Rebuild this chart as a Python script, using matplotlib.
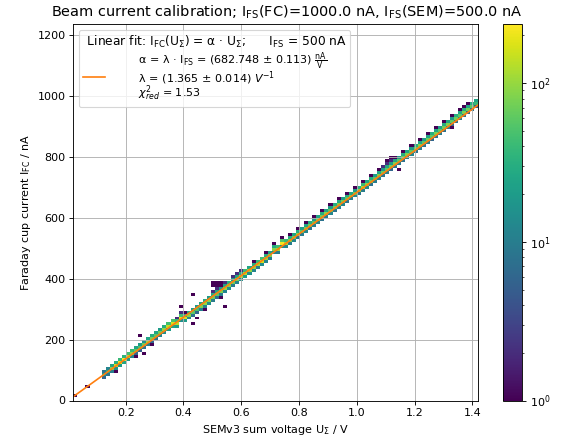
import numpy as np
import matplotlib
matplotlib.use("Agg")
import matplotlib.pyplot as plt
from matplotlib.colors import LogNorm

# ---------------- data ----------------
# column centres (V) of the dense ridge
col_u = [0.123, 0.137, 0.151, 0.165, 0.179, 0.193, 0.207, 0.221, 0.235, 0.249,
         0.263, 0.277, 0.291, 0.305, 0.319, 0.333, 0.347, 0.361, 0.375, 0.389,
         0.403, 0.417, 0.431, 0.445, 0.459, 0.473, 0.487, 0.501, 0.515, 0.529,
         0.543, 0.557, 0.571, 0.585, 0.599, 0.613, 0.627, 0.641, 0.655, 0.669,
         0.683, 0.697, 0.711, 0.725, 0.739, 0.753, 0.767, 0.781, 0.795, 0.809,
         0.823, 0.837, 0.851, 0.865, 0.879, 0.893, 0.907, 0.921, 0.935, 0.949,
         0.963, 0.977, 0.991, 1.005, 1.019, 1.033, 1.047, 1.061, 1.075, 1.089,
         1.103, 1.117, 1.131, 1.145, 1.159, 1.173, 1.187, 1.201, 1.215, 1.229,
         1.243, 1.257, 1.271, 1.285, 1.299, 1.313, 1.327, 1.341, 1.355, 1.369,
         1.383, 1.397, 1.411]
# current (nA) of the lowest occupied cell in each column
col_i0 = [74, 84, 93, 103, 112, 122, 131, 141, 151, 160,
          170, 179, 189, 198, 208, 217, 227, 237, 246, 256,
          265, 275, 284, 294, 304, 313, 323, 332, 342, 352,
          361, 371, 380, 390, 399, 409, 418, 428, 438, 447,
          457, 466, 481, 490, 500, 509, 519, 528, 538, 548,
          557, 567, 576, 586, 595, 605, 615, 624, 634, 643,
          653, 662, 672, 682, 691, 701, 710, 720, 731, 741,
          750, 760, 769, 779, 788, 798, 808, 817, 827, 836,
          846, 856, 865, 875, 884, 894, 903, 913, 922, 932,
          942, 951, 961]
# counts of the stacked cells (lowest first) in each column
col_n = [[6, 20, 8], [8, 30, 12], [10, 90, 25], [15, 160, 30], [20, 200, 40],
         [25, 236, 35], [20, 140, 45], [12, 90, 40], [6, 60, 25], [5, 50, 20],
         [8, 70, 15], [10, 110, 25], [6, 80, 30], [8, 60, 25], [12, 70, 20],
         [15, 100, 30], [20, 140, 45], [25, 170, 50], [20, 130, 40, 2], [15, 200, 45, 2],
         [20, 180, 30, 1], [12, 90, 25], [8, 60, 20], [6, 50, 20], [10, 80, 25],
         [12, 100, 30], [15, 90, 20], [10, 70, 30, 2], [8, 60, 25, 2], [10, 80, 20, 1],
         [12, 100, 25, 1], [15, 90, 30], [10, 70, 20, 2], [12, 80, 25, 1], [15, 110, 30, 1],
         [20, 130, 40], [15, 100, 25], [12, 90, 30, 1], [10, 110, 40], [15, 160, 45],
         [12, 100, 30, 1], [10, 80, 25], [12, 90, 30, 1], [10, 110, 45], [15, 220, 55, 1],
         [12, 120, 40], [10, 80, 30, 1], [12, 70, 25], [8, 90, 30, 1], [10, 60, 20],
         [12, 80, 25, 1], [8, 70, 30], [10, 60, 20, 1], [12, 80, 25], [8, 70, 30, 1],
         [10, 90, 25], [12, 60, 20, 1], [8, 70, 30], [10, 80, 25, 1], [12, 70, 20],
         [8, 60, 30, 1], [10, 80, 25], [12, 70, 20, 1], [8, 90, 30], [10, 120, 40, 1],
         [12, 90, 25], [8, 70, 30, 1], [10, 60, 20], [12, 80, 25, 1], [8, 70, 20, 2],
         [10, 60, 25, 2], [6, 70, 20, 2], [8, 80, 25, 1], [10, 60, 20], [8, 70, 30, 1],
         [10, 80, 25], [12, 60, 20, 1], [8, 70, 30], [10, 90, 25, 1], [8, 60, 20],
         [10, 70, 25, 1], [6, 60, 30], [8, 80, 25, 1], [10, 60, 20], [8, 70, 30, 1],
         [10, 80, 25], [6, 60, 20, 1], [8, 70, 30], [10, 60, 25, 1], [8, 80, 30, 1],
         [6, 70, 25, 1], [8, 60, 30], [4, 40, 25]]
# isolated cells (outliers)
out_u = [0.025, 0.067, 0.165, 0.249, 0.235, 0.263, 0.291, 0.389, 0.431, 0.431,
         0.445, 0.501, 0.515, 0.529, 0.543, 0.501, 0.515, 0.543, 0.529, 0.585,
         0.599, 0.473, 1.103, 1.117, 1.145, 1.327]
out_i = [16, 45, 94, 212, 143, 155, 182, 305, 350, 250,
         268, 385, 385, 385, 385, 375, 375, 311, 337, 420,
         428, 300, 790, 795, 761, 896]
out_n = [1, 1, 1, 1, 1, 1, 1, 1, 1, 1,
         1, 1, 1, 1, 1, 1, 1, 1, 1, 1,
         1, 1, 1, 1, 1, 1]

# fit result
fit_alpha = 682.748
u_range = (0.0187, 1.4206)
i_range = (12.0, 988.0)
n_bins = 100
count_max = 236

# ---------------- build weighted samples ----------------
dy = (i_range[1] - i_range[0]) / n_bins
pu, pi, pw = [], [], []
for u, i0, ns in zip(col_u, col_i0, col_n):
    for j, n in enumerate(ns):
        pu.append(u)
        pi.append(i0 + j * dy)
        pw.append(n)
pu += out_u
pi += out_i
pw += out_n

DPI = 80
W, H = 562, 439
fig = plt.figure(figsize=(W / DPI, H / DPI), dpi=DPI)
ax = fig.add_axes([73.3 / W, 38.5 / H, 405 / W, 376.5 / H])
cax = fig.add_axes([503.3 / W, 38.5 / H, 19 / W, 376.5 / H])

xe = np.linspace(u_range[0], u_range[1], n_bins + 1)
ye = np.linspace(i_range[0], i_range[1], n_bins + 1)
h = ax.hist2d(pu, pi, bins=[xe, ye], weights=pw, cmin=1,
              norm=LogNorm(vmin=1, vmax=count_max), cmap="viridis")
ax.grid(True)

ux = np.array(u_range)
pad = "       "
ax.plot(ux, fit_alpha * ux, color="C1", lw=1.5,
        label=pad + "α = λ · I$_\\mathrm{FS}$ = (682.748 ± 0.113) $\\frac{\\mathrm{nA}}{\\mathrm{V}}$\n"
              + pad + "λ = (1.365 ± 0.014) $V^{-1}$\n"
              + pad + "$\\chi^2_{red}$ = 1.53")
leg = ax.legend(loc="upper left", fontsize=10, title_fontsize=11,
                labelspacing=0.1, borderpad=0.35, alignment="left",
                title=" Linear fit: I$_\\mathrm{FC}$(U$_\\Sigma$) = α · U$_\\Sigma$;      I$_\\mathrm{FS}$ = 500 nA")
for t in leg.get_texts():
    t.set_linespacing(0.75)

ax.set_xlim(*u_range)
ax.set_ylim(0, 1235)
ax.set_xlabel("SEMv3 sum voltage U$_\\Sigma$ / V")
ax.set_ylabel("Faraday cup current I$_\\mathrm{FC}$ / nA")

fig.colorbar(h[3], cax=cax)
fig.text(0.510, 0.972,
         "Beam current calibration; I$_\\mathrm{FS}$(FC)=1000.0 nA, I$_\\mathrm{FS}$(SEM)=500.0 nA",
         ha="center", va="center", fontsize=13)

fig.savefig("out.png", dpi=DPI)
